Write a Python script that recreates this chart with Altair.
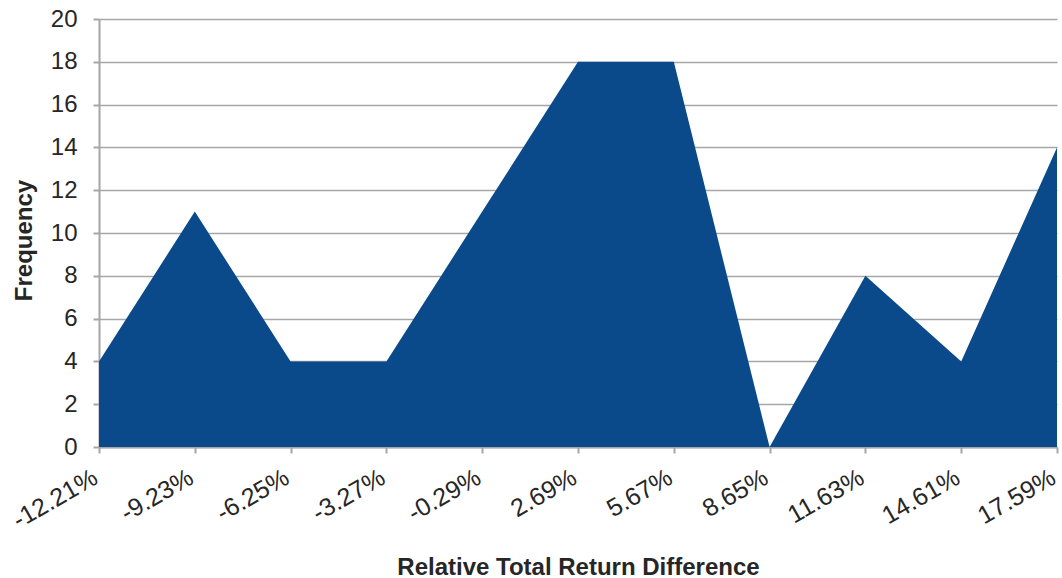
import altair as alt
import pandas as pd

# Histogram bins of relative total return difference and their counts
bins = ["-12.21%", "-9.23%", "-6.25%", "-3.27%", "-0.29%", "2.69%",
        "5.67%", "8.65%", "11.63%", "14.61%", "17.59%"]
counts = [4, 11, 4, 4, 11, 18, 18, 0, 8, 4, 14]

df = pd.DataFrame({"bin": bins, "count": counts})

FONT = "Liberation Sans"
TEXT = "#262626"
GREY = "#a6a6a6"

chart = (
    alt.Chart(df)
    .mark_area(color="#0b4a8a", opacity=1, line=False)
    .encode(
        x=alt.X(
            "bin:O",
            sort=bins,
            scale=alt.Scale(type="point", padding=0),
            axis=alt.Axis(
                title="Relative Total Return Difference",
                labelAngle=-30,
                labelAlign="right",
                labelBaseline="middle",
                labelPadding=22,
                labelOffset=-4,
                labelFontSize=25,
                labelFont=FONT,
                labelColor=TEXT,
                labelOverlap=False,
                tickSize=6,
                tickColor=GREY,
                tickWidth=2,
                domainColor=GREY,
                domainWidth=2,
                grid=False,
                titleFont=FONT,
                titleFontSize=24,
                titleFontWeight="bold",
                titleColor=TEXT,
                titleBaseline="alphabetic",
                titleY=127,
            ),
        ),
        y=alt.Y(
            "count:Q",
            scale=alt.Scale(domain=[0, 20], nice=False),
            axis=alt.Axis(
                title="Frequency",
                values=list(range(0, 21, 2)),
                labelFontSize=24,
                labelFont=FONT,
                labelColor=TEXT,
                labelPadding=16,
                tickSize=6,
                tickColor=GREY,
                tickWidth=2,
                domainColor=GREY,
                domainWidth=2,
                gridColor=GREY,
                gridWidth=1.5,
                titleFont=FONT,
                titleFontSize=24,
                titleFontWeight="bold",
                titleColor=TEXT,
                titleAngle=270,
                titleAlign="center",
                titleBaseline="alphabetic",
                titleX=-68,
                titleY=221,
            ),
        ),
    )
    .properties(
        width=958,
        height=428,
        autosize=alt.AutoSizeParams(type="none"),
        padding={"left": 99, "top": 19, "right": 5, "bottom": 131},
    )
    .configure_view(stroke=None)
    .configure_axis(zindex=0)
)

chart.save("out.html", embed_options={"renderer": "svg", "actions": False})
